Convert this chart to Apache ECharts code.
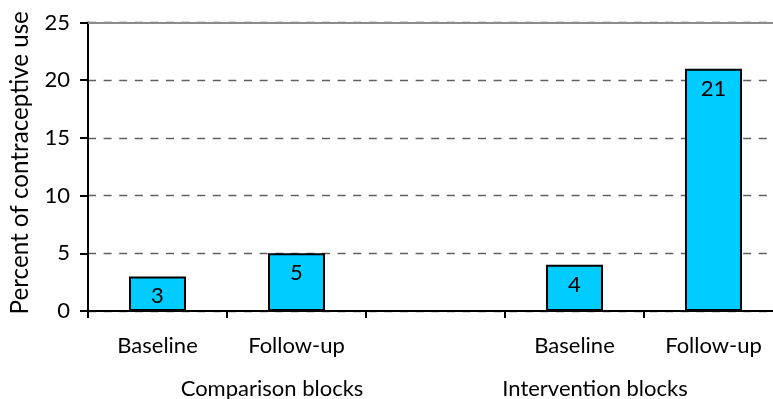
<!DOCTYPE html>
<html>
<head>
<meta charset="utf-8">
<script src="https://cdn.jsdelivr.net/npm/echarts@6/dist/echarts.min.js"></script>
<style>
  html, body { margin: 0; padding: 0; background: #fff; overflow: hidden; }
  /* the plot area runs a little past the right edge of the window */
  #chart { width: 800px; height: 399px; }
</style>
</head>
<body>
<div id="chart"></div>
<script>
// Contraceptive use by period, comparison vs intervention blocks
const categories = ['Baseline', 'Follow-up', '', 'Baseline', 'Follow-up'];
const values = [3, 5, null, 4, 21];
const groupLabels = ['Comparison blocks', 'Intervention blocks'];
const yTicks = [0, 5, 10, 15, 20, 25];

const FONT = 'Lato';
const chart = echarts.init(document.getElementById('chart'), null, { renderer: 'canvas' });

const groupCenters = [272, 595];

chart.setOption({
  animation: false,
  textStyle: { fontFamily: FONT },
  grid: { left: 88, top: 22.5, bottom: 88, right: 17, containLabel: false },
  xAxis: [
    {
      type: 'category',
      data: categories,
      axisLine: { lineStyle: { color: '#000', width: 2 } },
      axisTick: { show: true, interval: 0, length: 7, lineStyle: { color: '#000', width: 2 } },
      axisLabel: { interval: 0, color: '#000', fontFamily: FONT, fontSize: 22, margin: 24 },
      splitLine: { show: false }
    },
    {
      type: 'category',
      position: 'top',
      data: categories,
      axisLine: { show: true, lineStyle: { color: '#8c8c8c', width: 2 } },
      axisTick: { show: false },
      axisLabel: { show: false }
    }
  ],
  yAxis: {
    type: 'value',
    min: yTicks[0],
    max: yTicks[yTicks.length - 1],
    interval: 5,
    name: 'Percent of contraceptive use',
    nameLocation: 'middle',
    nameRotate: 90,
    nameGap: 56,
    nameTextStyle: { color: '#000', fontFamily: FONT, fontSize: 24.2, padding: [0, 0, 0, 8] },
    axisLine: { show: true, lineStyle: { color: '#000', width: 2 } },
    axisTick: { show: true, length: 8, lineStyle: { color: '#000', width: 2 } },
    axisLabel: { color: '#000', fontFamily: FONT, fontSize: 22, margin: 18 },
    splitLine: { show: true, lineStyle: { color: '#606060', width: 1.4, type: [8, 7.6] } }
  },
  series: [{
    type: 'bar',
    data: values,
    barWidth: '41%',
    itemStyle: { color: '#00CCFF', borderColor: '#000', borderWidth: 2 },
    label: {
      show: true,
      position: 'insideTop',
      distance: 9,
      color: '#000',
      fontFamily: FONT,
      fontSize: 22
    }
  }],
  graphic: groupLabels.map((t, i) => ({
    type: 'text',
    x: groupCenters[i],
    y: 389,
    style: { text: t, fill: '#000', font: '22px ' + FONT, align: 'center', verticalAlign: 'middle' }
  }))
});
</script>
</body>
</html>
